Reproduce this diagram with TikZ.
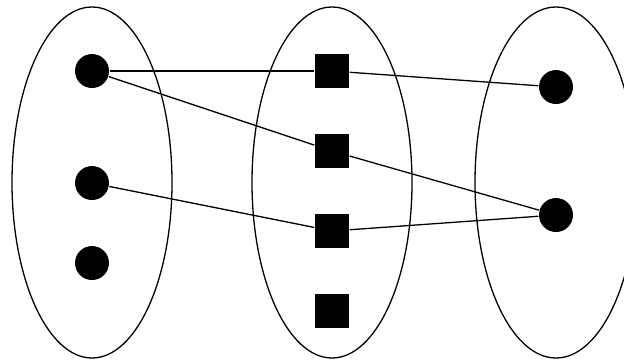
\documentclass[tikz,border=0pt]{standalone}
\begin{document}
\begin{tikzpicture}[x=1pt,y=-1pt,line width=1.3pt,
  dotnode/.style={circle,fill=black,minimum size=34pt,inner sep=0pt},
  sqnode/.style={rectangle,fill=black,minimum size=34pt,inner sep=0pt},
  groupshape/.style={draw=black,line width=1.3pt}]
\useasboundingbox (0,0) rectangle (624,360);
\clip (0,0) rectangle (624,360);
\draw[groupshape] (92,182.5) ellipse [x radius=80, y radius=175.5];
\draw[groupshape] (332,182.5) ellipse [x radius=80, y radius=175.5];
\draw[groupshape] (556,182.5) ellipse [x radius=81, y radius=175.5];
\node[dotnode] (a1) at (92,71) {};
\node[dotnode] (a2) at (92,183) {};
\node[dotnode] (a3) at (92,263) {};
\node[sqnode] (b1) at (332,71) {};
\node[sqnode] (b2) at (332,151) {};
\node[sqnode] (b3) at (332,231) {};
\node[sqnode] (b4) at (332,311) {};
\node[dotnode] (c1) at (556,87) {};
\node[dotnode] (c2) at (556,215) {};
\draw (a1) -- (b1);
\draw (a1) -- (b2);
\draw (a2) -- (b3);
\draw (b1) -- (c1);
\draw (b2) -- (c2);
\draw (b3) -- (c2);
\end{tikzpicture}
\end{document}
